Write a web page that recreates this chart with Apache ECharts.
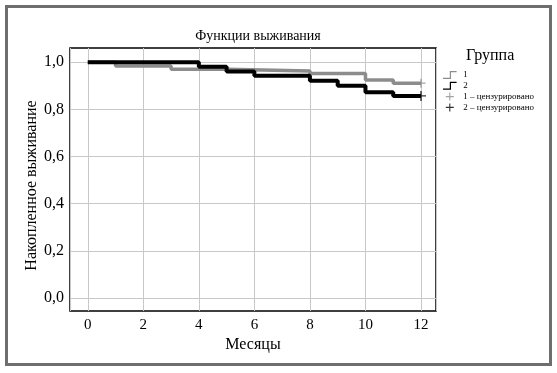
<!DOCTYPE html>
<html>
<head>
<meta charset="utf-8">
<script src="https://cdn.jsdelivr.net/npm/echarts@6/dist/echarts.min.js"></script>
<style>
html,body{margin:0;padding:0;background:#fff;}
#c{width:557px;height:373px;}
</style>
</head>
<body>
<div id="c"></div>
<script>
// Data (Kaplan–Meier step curves)
const months = [0, 2, 4, 6, 8, 10, 12];
const yTicks = [0, 0.2, 0.4, 0.6, 0.8, 1.0];
const group1Time = [0, 1, 3, 5, 8, 10, 11, 12];
const group1Surv = [1.0, 0.984, 0.970, 0.963, 0.952, 0.924, 0.911, 0.911];
const group2Time = [0, 4, 5, 6, 8, 9, 10, 11, 12];
const group2Surv = [1.0, 0.980, 0.960, 0.942, 0.921, 0.900, 0.872, 0.857, 0.857];
const censor1 = [[12, 0.911]];
const censor2 = [[12, 0.857]];
const groupNames = ['1', '2', '1 – цензурировано', '2 – цензурировано'];

const FONT = 'Liberation Serif';
const zip = (t, s) => t.map((x, i) => [x, s[i]]);
const fmt = v => v.toFixed(1).replace('.', ',');

const stepIcon = 'path://M0,9 H9 V0 H18 V1.6 H10.6 V10.6 H0 Z';
const plusIcon = 'path://M4.3,0 H5.7 V4.3 H10 V5.7 H5.7 V10 H4.3 V5.7 H0 V4.3 H4.3 Z';

const chart = echarts.init(document.getElementById('c'), null, {renderer: 'canvas'});
chart.setOption({
  animation: false,
  backgroundColor: '#ffffff',
  title: [
    {text: 'Функции выживания', left: 253, top: 24, textAlign: 'center',
     textStyle: {fontFamily: FONT, fontSize: 14, fontWeight: 'normal', color: '#000'}},
    {text: 'Группа', left: 461, top: 43,
     textStyle: {fontFamily: FONT, fontSize: 16, fontWeight: 'normal', color: '#000'}}
  ],
  legend: {
    orient: 'vertical', left: 443, top: 70, padding: 0, itemGap: 0.8,
    itemWidth: 17, itemHeight: 8,
    selectedMode: false,
    itemStyle: {borderWidth: 0},
    textStyle: {fontFamily: FONT, fontSize: 9, color: '#000', lineHeight: 10},
    data: [
      {name: groupNames[0], icon: stepIcon},
      {name: groupNames[1], icon: stepIcon},
      {name: groupNames[2], icon: plusIcon},
      {name: groupNames[3], icon: plusIcon}
    ]
  },
  grid: {left: 70, top: 48, width: 366, height: 263, show: true,
         borderColor: '#000', borderWidth: 1.5, backgroundColor: 'transparent'},
  xAxis: {
    type: 'value', min: -0.64, max: 12.54, splitNumber: 6,
    name: 'Месяцы', nameLocation: 'middle', nameGap: 26, nameMoveOverlap: false,
    nameTextStyle: {fontFamily: FONT, fontSize: 16, color: '#000'},
    axisLine: {show: false},
    axisTick: {show: false},
    axisLabel: {customValues: months,
                fontFamily: FONT, fontSize: 15, color: '#000', margin: 7},
    splitLine: {show: true, lineStyle: {color: '#c8c8c8', width: 1}}
  },
  yAxis: {
    type: 'value', min: -0.055, max: 1.06, splitNumber: 5,
    name: 'Накопленное выживание', nameLocation: 'middle', nameGap: 30, nameRotate: 90,
    nameMoveOverlap: false,
    nameTextStyle: {fontFamily: FONT, fontSize: 16, color: '#000', padding: [0, 12, 0, 0]},
    axisLine: {show: false},
    axisTick: {show: true, customValues: yTicks, length: 3, lineStyle: {color: '#c8c8c8'}},
    axisLabel: {customValues: yTicks, formatter: fmt,
                fontFamily: FONT, fontSize: 16, color: '#000', margin: 6},
    splitLine: {show: true, lineStyle: {color: '#c8c8c8', width: 1}}
  },
  graphic: [{
    type: 'rect', silent: true, z: -1,
    shape: {x: 6.5, y: 6.5, width: 544, height: 358},
    style: {fill: 'none', stroke: '#6e6e6e', lineWidth: 3}
  }],
  series: [
    {name: groupNames[0], type: 'line', step: 'end', data: zip(group1Time, group1Surv),
     showSymbol: false, symbol: 'none', color: '#8c8c8c',
     lineStyle: {color: '#8c8c8c', width: 3.5}, z: 2},
    {name: groupNames[1], type: 'line', step: 'end', data: zip(group2Time, group2Surv),
     showSymbol: false, symbol: 'none', color: '#000',
     lineStyle: {color: '#000', width: 4}, z: 3},
    {name: groupNames[2], type: 'scatter', data: censor1, symbol: plusIcon, symbolSize: 9,
     color: '#8c8c8c', itemStyle: {color: '#8c8c8c'}, z: 4},
    {name: groupNames[3], type: 'scatter', data: censor2, symbol: plusIcon, symbolSize: 10,
     color: '#000', itemStyle: {color: '#000'}, z: 5}
  ]
});
</script>
</body>
</html>
